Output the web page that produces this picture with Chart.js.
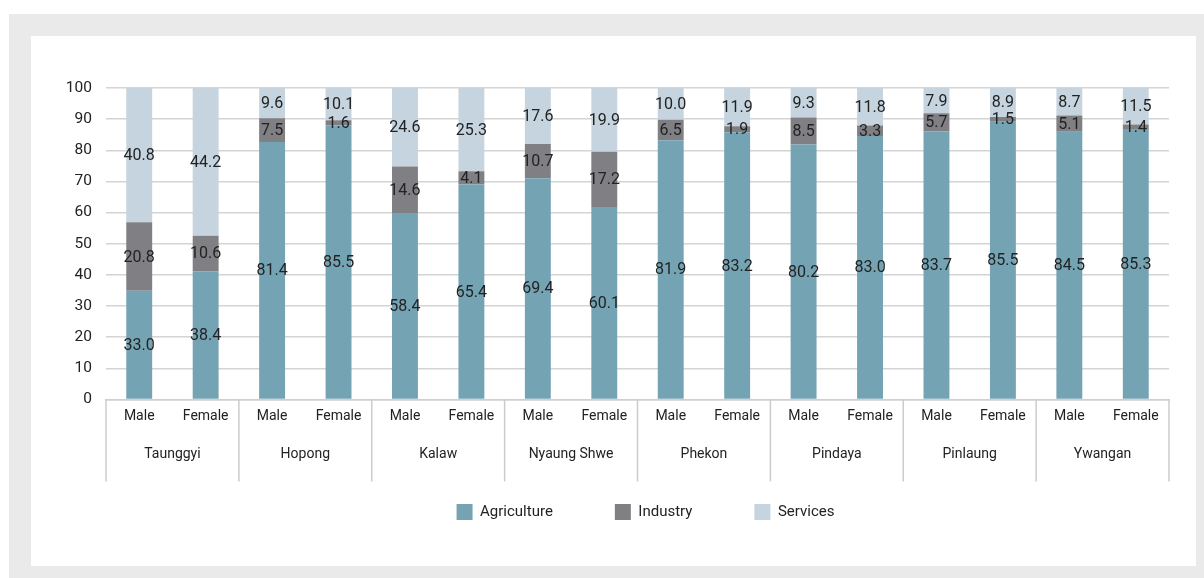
<!DOCTYPE html>
<html><head><meta charset="utf-8">
<script src="https://cdn.jsdelivr.net/npm/chart.js@4.4.0/dist/chart.umd.min.js"></script>
<style>
html,body{margin:0;padding:0;background:#fff;}
#outer{position:absolute;left:9px;top:14px;width:1195px;height:564px;background:#eaeaea;}
#panel{position:absolute;left:22px;top:22px;width:1165px;height:530px;background:#fff;}
canvas{display:block;}
</style></head><body>
<div id="outer"><div id="panel"><canvas id="c" width="1165" height="530"></canvas></div></div>
<script>
const towns = ['Taunggyi','Hopong','Kalaw','Nyaung Shwe','Phekon','Pindaya','Pinlaung','Ywangan'];
const genders = ['Male','Female'];
const agriculture = [33.0,38.4, 81.4,85.5, 58.4,65.4, 69.4,60.1, 81.9,83.2, 80.2,83.0, 83.7,85.5, 84.5,85.3];
const industry    = [20.8,10.6,  7.5, 1.6, 14.6, 4.1, 10.7,17.2,  6.5, 1.9,  8.5, 3.3,  5.7, 1.5,  5.1, 1.4];
const services    = [40.8,44.2,  9.6,10.1, 24.6,25.3, 17.6,19.9, 10.0,11.9,  9.3,11.8,  7.9, 8.9,  8.7,11.5];
const yTicks = [0,10,20,30,40,50,60,70,80,90,100];

const FONT = "Roboto, 'Liberation Sans', sans-serif";
const TEXT = '#222222';

const labels = [];
towns.forEach(() => genders.forEach(g => labels.push(g)));
const totals = agriculture.map((v, i) => v + industry[i] + services[i]);
const share = arr => arr.map((v, i) => v / totals[i] * 100);

const series = [
  {name:'Agriculture', raw: agriculture, color:'#74a3b4'},
  {name:'Industry', raw: industry, color:'#808084'},
  {name:'Services', raw: services, color:'#c5d4de'}
];

const dataLabels = {
  id:'dataLabels',
  afterDatasetsDraw(chart){
    const ctx = chart.ctx;
    ctx.save();
    ctx.font = "16px " + FONT;
    ctx.fillStyle = TEXT;
    ctx.textAlign = 'center';
    ctx.textBaseline = 'middle';
    chart.data.datasets.forEach((ds, di) => {
      const meta = chart.getDatasetMeta(di);
      meta.data.forEach((el, i) => {
        const p = el.getProps(['x','y','base'], true);
        ctx.fillText(ds.raw[i].toFixed(1), p.x, (p.y + p.base) / 2 + 1);
      });
    });
    ctx.restore();
  }
};

const groupAxis = {
  id:'groupAxis',
  afterDraw(chart){
    const xs = chart.scales.x;
    const ctx = chart.ctx;
    const top = chart.chartArea.bottom;
    const w = xs.getPixelForValue(1) - xs.getPixelForValue(0);
    const n = towns.length, per = genders.length;
    ctx.save();
    ctx.strokeStyle = '#cccccc';
    ctx.lineWidth = 1.5;
    for (let k = 0; k <= n; k++) {
      const x = k < n ? xs.getPixelForValue(k * per) - w / 2 : xs.getPixelForValue(n * per - 1) + w / 2;
      ctx.beginPath();
      ctx.moveTo(x, top);
      ctx.lineTo(x, top + 82);
      ctx.stroke();
    }
    ctx.font = "14px " + FONT;
    ctx.fillStyle = TEXT;
    ctx.textAlign = 'center';
    ctx.textBaseline = 'middle';
    towns.forEach((t, k) => {
      const cx = (xs.getPixelForValue(k * per) + xs.getPixelForValue(k * per + per - 1)) / 2;
      ctx.fillText(t, cx, top + 55);
    });
    ctx.restore();
  }
};

const legendShift = {
  id:'legendShift',
  afterLayout(chart){
    const lg = chart.legend, ca = chart.chartArea;
    if (!lg) return;
    const d = (ca.left + ca.right) / 2 + 8 - (lg.left + lg.right) / 2;
    lg.left += d; lg.right += d;
  }
};

new Chart(document.getElementById('c'), {
  type:'bar',
  data:{
    labels: labels,
    datasets: series.map(s => ({
      label: s.name,
      data: share(s.raw),
      raw: s.raw,
      backgroundColor: s.color,
      borderWidth: 0,
      barPercentage: 0.39,
      categoryPercentage: 1.0
    }))
  },
  options:{
    responsive:false,
    animation:false,
    devicePixelRatio:1,
    layout:{padding:{left:0, right:27, top:52, bottom:36}},
    plugins:{
      legend:{
        position:'bottom',
        labels:{
          boxWidth:16, boxHeight:16, padding:62,
          color:TEXT, font:{family:FONT, size:15}
        }
      },
      tooltip:{enabled:false}
    },
    scales:{
      x:{
        stacked:true,
        grid:{display:false, drawTicks:false},
        border:{display:true, color:'#cfcfcf', width:1.5},
        ticks:{color:TEXT, font:{family:FONT, size:14}, padding:9, maxRotation:0, autoSkip:false},
        afterFit(scale){ scale.height = 42.5; }
      },
      y:{
        stacked:true,
        min:0, max:100,
        afterBuildTicks(scale){ scale.ticks = yTicks.map(v => ({value:v})); },
        grid:{color:'#d4d4d4', lineWidth:1.5, drawTicks:false},
        border:{display:false},
        ticks:{color:TEXT, font:{family:FONT, size:15.5}, padding:14},
        afterFit(scale){ scale.width = 75; }
      }
    }
  },
  plugins:[dataLabels, groupAxis, legendShift]
});
</script>
</body></html>
